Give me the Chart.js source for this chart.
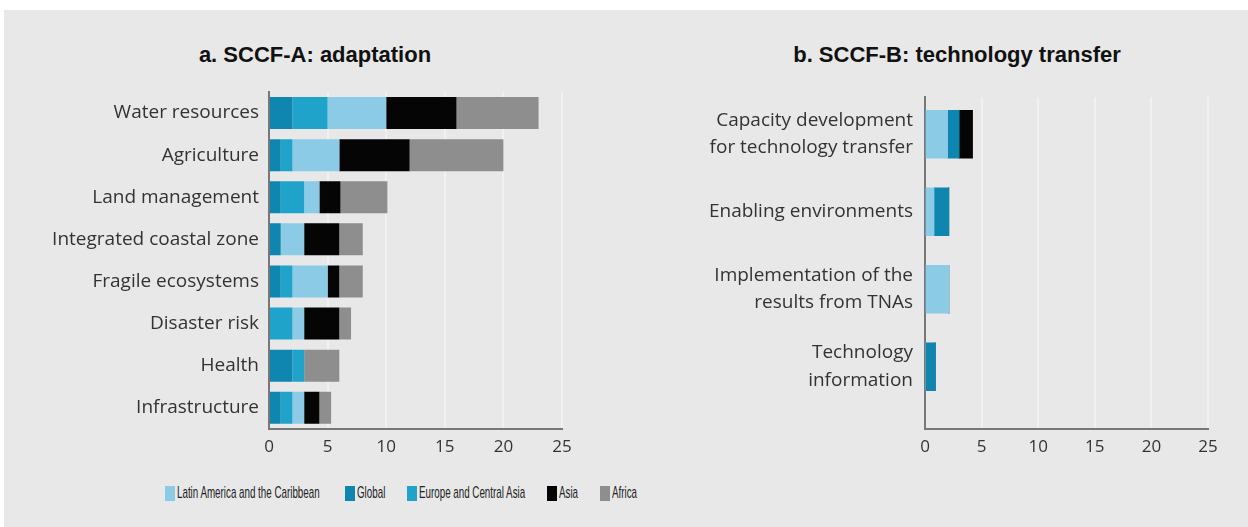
<!DOCTYPE html>
<html>
<head>
<meta charset="utf-8">
<script src="https://cdn.jsdelivr.net/npm/chart.js@4.4.0/dist/chart.umd.min.js"></script>
<style>
  body { margin: 0; background: #fff; width: 1248px; height: 527px; overflow: hidden; position: relative; }
  #panel { position: absolute; left: 4px; top: 10px; right: 0; bottom: 0; background: #e8e8e8; }
  .box { position: absolute; }
  .title { position: absolute; top: 42px; width: 400px; text-align: center; color: #111;
           font: bold 22px/26px "Liberation Sans", sans-serif; }
  .item { position: absolute; top: 486px; height: 16px; white-space: nowrap; }
  .swatch { position: absolute; left: 0; top: 0; width: 10px; height: 15px; }
  .label { position: absolute; left: 12px; top: -3px; font: 17px "Liberation Sans", sans-serif;
           color: #222; transform: scaleX(0.576); transform-origin: 0 0; }
</style>
</head>
<body>
<div id="panel"></div>
<div class="title" style="left:115px">a. SCCF-A: adaptation</div>
<div class="title" style="left:757px">b. SCCF-B: technology transfer</div>
<div class="box" style="left:20px;top:30px;width:590px;height:440px"><canvas id="chartA"></canvas></div>
<div class="box" style="left:674px;top:30px;width:566px;height:440px"><canvas id="chartB"></canvas></div>
<div id="legend"></div>
<script>
// regions, in legend order
const regions = ['Latin America and the Caribbean', 'Global', 'Europe and Central Asia', 'Asia', 'Africa'];
const regionColors = ['#8ccbe6', '#0e86b0', '#1fa3cb', '#050505', '#8e8e8e'];

// a. adaptation projects by sector
const sectorsA = ['Water resources', 'Agriculture', 'Land management', 'Integrated coastal zone',
                  'Fragile ecosystems', 'Disaster risk', 'Health', 'Infrastructure'];
const latinA  = [5, 4, 1.3, 2, 3, 1, 0, 1];
const globalA = [2, 1, 1, 1, 1, 0, 2, 1];
const europeA = [3, 1, 2, 0, 1, 2, 1, 1];
const asiaA   = [6, 6, 1.8, 3, 1, 3, 0, 1.3];
const africaA = [7, 8, 4, 2, 2, 1, 3, 1];

// b. technology transfer projects by area
const sectorsB = [['Capacity development', 'for technology transfer'], 'Enabling environments',
                  ['Implementation of the', 'results from TNAs'], ['Technology', 'information']];
const latinB  = [2, 0.8, 2.1, 0];
const globalB = [1, 1.3, 0, 0.9];
const europeB = [0, 0, 0, 0];
const asiaB   = [1.2, 0, 0, 0];
const africaB = [0, 0, 0, 0];

const xTicks = [0, 5, 10, 15, 20, 25];
const legendX = [165, 345, 407, 547, 600];

const seriesA = [latinA, globalA, europeA, asiaA, africaA];
const seriesB = [latinB, globalB, europeB, asiaB, africaB];

const textColor = '#333';
const xFont = { family: '"Open Sans", sans-serif', size: 17, lineHeight: 1.6 };
const yFont = { family: '"Open Sans", sans-serif', size: 19, lineHeight: 1.45 };

function xScale() {
  return {
    stacked: true,
    min: xTicks[0],
    max: xTicks[xTicks.length - 1],
    afterBuildTicks: s => { s.ticks = xTicks.map(v => ({ value: v })); },
    grid: { color: '#f1f1f1', lineWidth: 2, drawTicks: false },
    border: { color: '#777', width: 2 },
    ticks: { color: textColor, font: xFont, padding: 5 }
  };
}

// chart a: stacked from Global outwards
const orderA = [1, 2, 0, 3, 4];
new Chart(document.getElementById('chartA'), {
  type: 'bar',
  data: {
    labels: sectorsA,
    datasets: orderA.map(k => ({
      label: regions[k],
      data: seriesA[k],
      backgroundColor: regionColors[k],
      borderWidth: 0,
      barPercentage: 0.76,
      categoryPercentage: 1
    }))
  },
  options: {
    indexAxis: 'y',
    responsive: true,
    maintainAspectRatio: false,
    animation: false,
    layout: { padding: { top: 62, right: 48, bottom: 4 } },
    plugins: { legend: { display: false }, tooltip: { enabled: false } },
    scales: {
      x: xScale(),
      y: {
        stacked: true,
        afterFit: s => { s.width = 249; },
        grid: { display: false, drawTicks: false },
        border: { color: '#777', width: 2 },
        ticks: { color: textColor, font: yFont, padding: 10 }
      }
    }
  }
});

// chart b: index axis kept numeric so the rows can sit unevenly spaced
new Chart(document.getElementById('chartB'), {
  type: 'bar',
  data: {
    datasets: [0, 1, 2, 3, 4].map(k => ({
      label: regions[k],
      data: seriesB[k].map((v, i) => ({ x: v, y: i })),
      backgroundColor: regionColors[k],
      borderWidth: 0,
      barThickness: 48
    }))
  },
  options: {
    indexAxis: 'y',
    responsive: true,
    maintainAspectRatio: false,
    animation: false,
    layout: { padding: { top: 67, right: 32, bottom: 4 } },
    plugins: { legend: { display: false }, tooltip: { enabled: false } },
    scales: {
      x: xScale(),
      y: {
        type: 'linear',
        offset: false,
        stacked: true,
        reverse: true,
        min: -0.48,
        max: 3.8,
        afterBuildTicks: s => { s.ticks = sectorsB.map((_, i) => ({ value: i })); },
        afterFit: s => { s.width = 251; },
        grid: { display: false, drawTicks: false },
        border: { color: '#777', width: 2 },
        ticks: { color: textColor, font: yFont, padding: 12, callback: v => sectorsB[v] }
      }
    }
  }
});

// shared legend
const legend = document.getElementById('legend');
regions.forEach((name, i) => {
  const item = document.createElement('div');
  item.className = 'item';
  item.style.left = legendX[i] + 'px';
  item.innerHTML = '<span class="swatch" style="background:' + regionColors[i] + '"></span>' +
                   '<span class="label">' + name + '</span>';
  legend.appendChild(item);
});
</script>
</body>
</html>
